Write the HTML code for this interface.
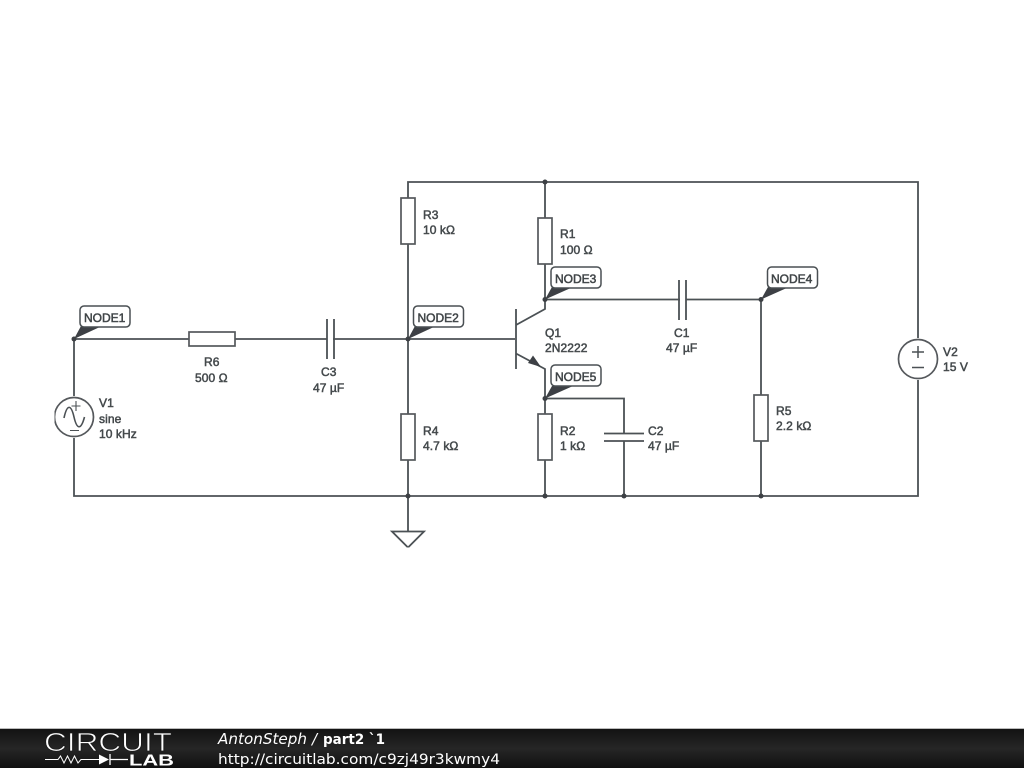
<!DOCTYPE html>
<html>
<head>
<meta charset="utf-8">
<style>
html,body{margin:0;padding:0;background:#fff;width:1024px;height:768px;overflow:hidden}
svg{display:block;position:absolute;left:0;top:0}
.w{fill:none;stroke:#4c5154;stroke-width:1.800}
.b{fill:#fff;stroke:#55595c;stroke-width:1.700}
.t{font-family:"Liberation Sans",sans-serif;font-size:12px;fill:#44494c;stroke:#44494c;stroke-width:.5;letter-spacing:.08px}
.n{font-family:"Liberation Sans",sans-serif;font-size:12px;fill:#404548;stroke:#404548;stroke-width:.5}
.d{fill:#3c4144}
.f{font-family:"DejaVu Sans",sans-serif;fill:#fff}
</style>
</head>
<body>
<svg width="1024" height="768" viewBox="0 0 1024 768">
<defs>
<linearGradient id="g" x1="0" y1="0" x2="0" y2="1"><stop offset="0" stop-color="#121212"/><stop offset=".5" stop-color="#262626"/><stop offset="1" stop-color="#101010"/></linearGradient>
<filter id="s" x="0" y="0" width="100%" height="100%"><feGaussianBlur stdDeviation=".3"/></filter>
</defs>
<g filter="url(#s)">
<!-- wires -->
<path class="w" d="M74 339H189M235 339H327M333 339H515M74 339V396M74 438V496H918V380M918 338V182H408V198M408 244V414M408 460V531"/>
<path class="w" d="M545 182V218M545 264V299.500M545 299.500H680M686 299.500H761M761 299.500V395M761 441V496"/>
<path class="w" d="M545 398.500H624V433M624 441V496M545 398.500V414M545 460V496"/>
<!-- ground -->
<path class="w" d="M392 531.500H424L408 547.500Z"/>
<!-- resistors -->
<rect class="b" x="189" y="332" width="46" height="14"/>
<rect class="b" x="401" y="198" width="14" height="46"/>
<rect class="b" x="401" y="414" width="14" height="46"/>
<rect class="b" x="538" y="218" width="14" height="46"/>
<rect class="b" x="538" y="414" width="14" height="46"/>
<rect class="b" x="754" y="395" width="14" height="46"/>
<!-- capacitors -->
<path class="w" d="M327 319V359M334 319V359M679 280V320M686 280V320M604 433.500H644M604 441H644"/>
<!-- transistor -->
<path class="w" d="M516 309V369M516 325L545 309V299.500M516 353.500L545 369V398.500"/>
<path class="d" d="M541 367L528 363L533 355.500Z"/>
<!-- sources -->
<circle class="b" cx="74" cy="417" r="19.500"/>
<path class="w" d="M76 401V411M71.500 406H80.500M70 430.500H79" style="stroke-width:1.100"/>
<path class="w" d="M64 418C67 404 71 404 74 417C77 430 81 430 84.500 417" style="stroke-width:1.600"/>
<circle class="b" cx="918" cy="359" r="19.500"/>
<path class="w" d="M918 346V358M912 352H924M912 367.500H924" style="stroke-width:1.500"/>
<!-- junctions -->
<g class="d">
<circle cx="74" cy="339" r="2.500"/><circle cx="408" cy="339" r="2.500"/><circle cx="545" cy="299.500" r="2.500"/><circle cx="761" cy="299.500" r="2.500"/><circle cx="545" cy="398.500" r="2.500"/>
<circle cx="545" cy="182" r="2.500"/><circle cx="408" cy="496" r="2.500"/><circle cx="545" cy="496" r="2.500"/><circle cx="624" cy="496" r="2.500"/><circle cx="761" cy="496" r="2.500"/>
</g>
<!-- node labels -->
<g>
<path class="d" d="M74 339L81 326H102Z"/>
<rect x="80" y="306" width="50" height="21" rx="4" fill="#fff" stroke="#4a4f52" stroke-width="1.500"/>
<text class="n" x="84" y="322">NODE1</text>
<path class="d" d="M408 339L415 326H436Z"/>
<rect x="413.500" y="306" width="50" height="21" rx="4" fill="#fff" stroke="#4a4f52" stroke-width="1.500"/>
<text class="n" x="417.500" y="322">NODE2</text>
<path class="d" d="M545 299.500L552 287H573Z"/>
<rect x="551" y="267" width="50" height="21" rx="4" fill="#fff" stroke="#4a4f52" stroke-width="1.500"/>
<text class="n" x="555" y="283">NODE3</text>
<path class="d" d="M761 299.500L768 287H789Z"/>
<rect x="767.500" y="267" width="50" height="21" rx="4" fill="#fff" stroke="#4a4f52" stroke-width="1.500"/>
<text class="n" x="771" y="283">NODE4</text>
<path class="d" d="M545 398.500L552 386H573Z"/>
<rect x="551" y="365" width="50" height="21" rx="4" fill="#fff" stroke="#4a4f52" stroke-width="1.500"/>
<text class="n" x="555" y="381">NODE5</text>
</g>
<!-- labels -->
<g class="t">
<text x="204" y="366">R6</text><text x="195" y="382">500 Ω</text>
<text x="321" y="376">C3</text><text x="313" y="392">47 µF</text>
<text x="99" y="407">V1</text><text x="99" y="423">sine</text><text x="99" y="438">10 kHz</text>
<text x="423" y="219">R3</text><text x="423" y="234">10 kΩ</text>
<text x="423" y="435">R4</text><text x="423" y="450">4.7 kΩ</text>
<text x="560" y="238">R1</text><text x="560" y="254">100 Ω</text>
<text x="545" y="337">Q1</text><text x="545" y="352">2N2222</text>
<text x="560" y="435">R2</text><text x="560" y="450">1 kΩ</text>
<text x="648" y="435">C2</text><text x="648" y="450">47 µF</text>
<text x="674" y="337">C1</text><text x="666" y="352">47 µF</text>
<text x="776" y="415">R5</text><text x="776" y="430">2.2 kΩ</text>
<text x="943" y="356">V2</text><text x="943" y="371">15 V</text>
</g>
</g>
<!-- footer -->
<rect x="0" y="729" width="1024" height="39" fill="url(#g)"/>
<rect x="0" y="728" width="1024" height="1" fill="#bbb"/>
<text x="44" y="751" font-family="'Liberation Sans',sans-serif" font-size="26" fill="#fff" stroke="#1c1c1c" stroke-width=".8" textLength="128" lengthAdjust="spacingAndGlyphs">CIRCUIT</text>
<path d="M45 759.500H58L60.500 756L64 763L67.500 756L71 763L74.500 756L78 763L81 759.500H99" fill="none" stroke="#fff" stroke-width="1"/>
<path d="M99 754.500V764.500L109 759.500Z" fill="#fff"/>
<path d="M110 754V765M110 759.500H128" fill="none" stroke="#fff" stroke-width="1.300"/>
<text x="129" y="765.500" font-family="'Liberation Sans',sans-serif" font-size="15.500" font-weight="bold" fill="#fff" textLength="45" lengthAdjust="spacingAndGlyphs">LAB</text>
<text class="f" x="218" y="744" font-size="15" font-style="italic" textLength="89" lengthAdjust="spacingAndGlyphs">AntonSteph</text>
<text class="f" x="312" y="744" font-size="15" font-style="italic">/</text>
<text class="f" x="323" y="744" font-size="14" font-weight="bold" textLength="62" lengthAdjust="spacingAndGlyphs">part2 `1</text>
<text class="f" x="218" y="764" font-size="14.500" textLength="282" lengthAdjust="spacingAndGlyphs">http://circuitlab.com/c9zj49r3kwmy4</text>
</svg>
</body>
</html>
